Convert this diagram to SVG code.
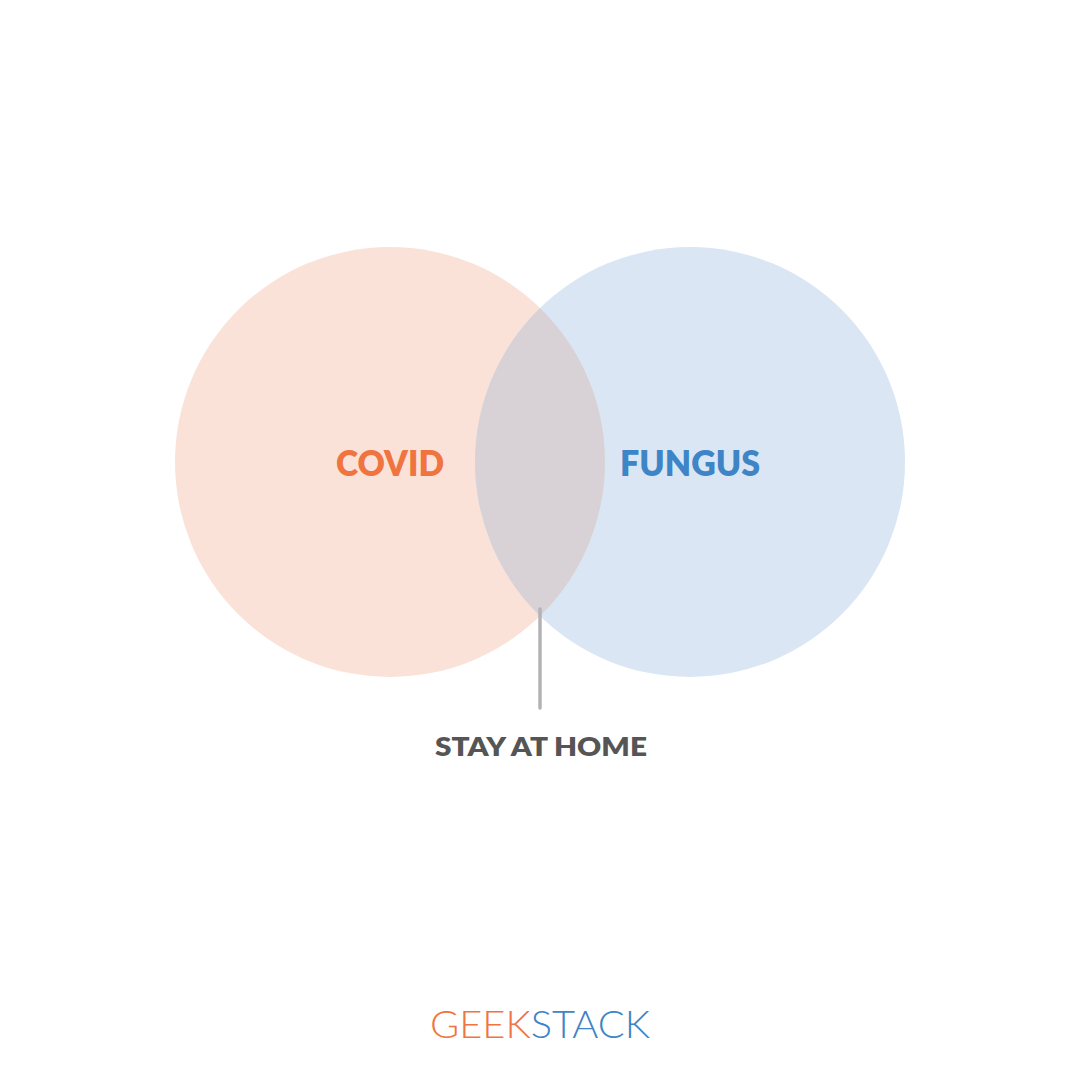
<svg xmlns="http://www.w3.org/2000/svg" width="1080" height="1080" viewBox="0 0 1080 1080">
<style>
.lbl{font-family:Lato,"Open Sans","Liberation Sans",sans-serif;font-weight:800;text-anchor:middle}
.logo{font-family:Lato,"Open Sans","Liberation Sans",sans-serif;font-weight:300}
</style>
<defs>
<clipPath id="clipL"><circle cx="390" cy="462" r="215"/></clipPath>
</defs>
<rect width="1080" height="1080" fill="#ffffff"/>
<g id="covid">
<circle cx="390" cy="462" r="215" fill="#fbe2d8"/>
<text class="lbl" x="390" y="476" font-size="36" fill="#f07440" textLength="108" lengthAdjust="spacingAndGlyphs">COVID</text>
</g>
<g id="fungus">
<circle cx="690" cy="462" r="215" fill="#dae6f3"/>
<text class="lbl" x="690" y="476" font-size="36" fill="#3d85c6" textLength="140" lengthAdjust="spacingAndGlyphs">FUNGUS</text>
</g>
<g id="overlap">
<circle cx="690" cy="462" r="215" fill="#d8d2d6" clip-path="url(#clipL)"/>
</g>
<g id="connectors">
<line x1="540" y1="609" x2="540" y2="708" stroke="#b3b3b3" stroke-width="3.5" stroke-linecap="round"/>
</g>
<g id="stayhome">
<text class="lbl" x="541" y="756" font-size="26" fill="#555555" textLength="212" lengthAdjust="spacingAndGlyphs">STAY AT HOME</text>
</g>
<g id="logo">
<text class="logo" x="430" y="1038" font-size="38" textLength="220" lengthAdjust="spacingAndGlyphs"><tspan fill="#f07440">GEEK</tspan><tspan fill="#3d85c6">STACK</tspan></text>
</g>
</svg>
